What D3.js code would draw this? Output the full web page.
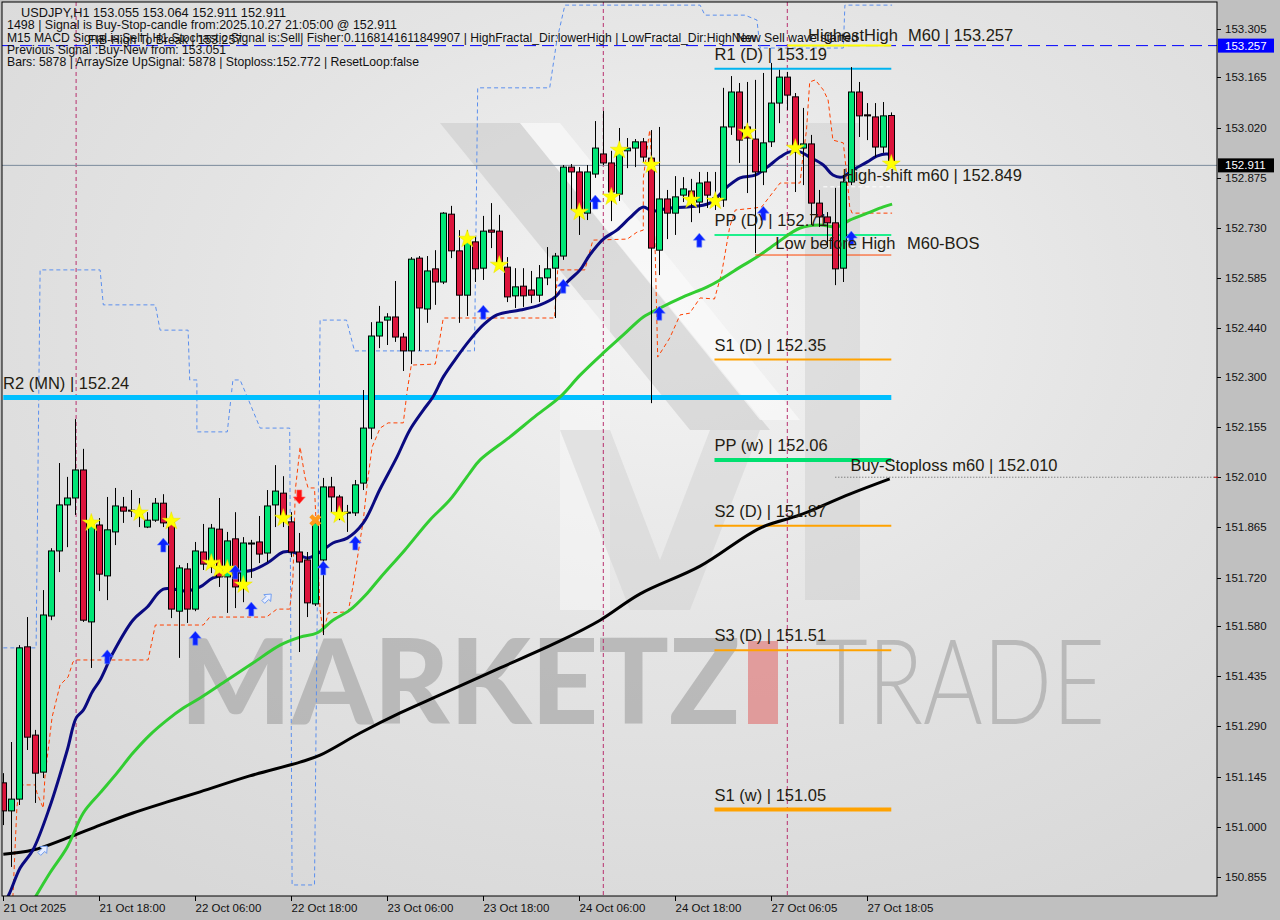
<!DOCTYPE html>
<html><head><meta charset="utf-8">
<script src="https://cdn.jsdelivr.net/npm/d3@7"></script>
<style>html,body{margin:0;padding:0;background:#c0c0c0;}svg{display:block}</style>
</head><body>
<script>
// ---------- DATA ----------
const openP  = [151.127,151.046,151.080,151.520,151.265,151.158,151.609,151.797,151.930,151.950,152.031,151.592,151.872,151.725,151.852,151.924,151.915,151.909,151.866,151.886,151.935,151.878,151.623,151.745,151.629,151.794,151.751,151.860,151.722,151.832,151.704,151.817,151.823,151.791,151.930,151.964,151.881,151.794,151.771,151.644,151.771,151.982,151.953,151.907,151.907,151.993,152.152,152.418,152.464,152.473,152.415,152.375,152.643,152.496,152.612,152.574,152.770,152.664,152.536,152.690,152.614,152.724,152.721,152.617,152.534,152.562,152.551,152.536,152.586,152.614,152.649,152.906,152.892,152.773,152.886,152.944,152.918,152.828,152.953,152.961,152.979,152.932,152.666,152.814,152.773,152.825,152.837,152.805,152.863,152.808,152.811,153.022,153.123,153.022,152.987,152.892,152.979,153.091,153.166,153.109,152.961,152.973,152.802,152.762,152.745,152.614,152.863,153.123,153.057,153.051,152.964,153.055];
const highP  = [151.155,151.245,151.525,151.606,151.280,151.684,151.805,152.051,152.011,152.178,152.092,151.901,151.892,151.953,151.979,151.953,151.973,151.950,151.909,151.950,151.961,151.895,151.756,151.762,151.823,151.875,151.875,151.950,151.852,151.909,151.837,151.829,151.898,151.973,152.045,152.013,151.909,151.849,151.794,151.892,152.008,152.011,151.959,151.930,152.002,152.262,152.458,152.505,152.484,152.577,152.427,152.646,152.649,152.649,152.666,152.776,152.794,152.724,152.724,152.704,152.765,152.802,152.768,152.646,152.614,152.614,152.606,152.623,152.675,152.658,152.912,152.915,152.906,152.912,153.039,153.068,152.953,153.019,152.990,152.987,152.990,153.013,153.022,152.840,152.880,152.877,152.872,152.892,152.892,152.892,153.135,153.169,153.149,153.152,153.158,153.178,153.207,153.187,153.181,153.120,153.077,152.999,152.840,152.776,152.846,152.883,153.195,153.152,153.091,153.091,153.094,153.064];
const lowP   = [151.005,150.884,151.063,151.222,151.069,151.141,151.597,151.736,151.808,151.901,151.592,151.459,151.681,151.655,151.814,151.878,151.895,151.866,151.863,151.881,151.866,151.603,151.488,151.589,151.623,151.742,151.733,151.693,151.618,151.632,151.649,151.719,151.762,151.765,151.866,151.866,151.779,151.505,151.606,151.638,151.554,151.909,151.886,151.852,151.898,151.973,152.120,152.383,152.392,152.401,152.317,152.337,152.375,152.456,152.508,152.568,152.643,152.456,152.476,152.574,152.580,152.672,152.614,152.516,152.499,152.502,152.513,152.516,152.565,152.470,152.638,152.782,152.710,152.753,152.875,152.912,152.750,152.808,152.903,152.906,152.921,152.224,152.594,152.698,152.710,152.805,152.747,152.773,152.788,152.782,152.791,152.999,152.918,152.831,152.658,152.854,152.964,153.033,153.071,152.834,152.854,152.739,152.733,152.675,152.565,152.574,152.854,152.993,152.984,152.935,152.947,152.911];
const closeP = [151.046,151.080,151.517,151.259,151.155,151.612,151.797,151.930,151.950,152.031,151.597,151.872,151.730,151.858,151.927,151.912,151.912,151.901,151.886,151.935,151.878,151.629,151.748,151.629,151.797,151.759,151.863,151.722,151.826,151.693,151.820,151.820,151.788,151.927,151.970,151.892,151.794,151.765,151.647,151.878,151.982,151.953,151.907,151.909,151.988,152.152,152.418,152.458,152.473,152.415,152.375,152.640,152.499,152.606,152.574,152.773,152.664,152.536,152.695,152.612,152.721,152.718,152.632,152.531,152.560,152.534,152.536,152.586,152.612,152.649,152.906,152.892,152.776,152.892,152.961,152.918,152.834,152.955,152.961,152.979,152.935,152.672,152.814,152.773,152.820,152.843,152.817,152.860,152.825,152.817,153.022,153.123,152.984,152.990,152.892,152.976,153.091,153.166,153.114,152.955,152.973,152.802,152.762,152.745,152.612,152.863,153.123,153.054,153.054,152.964,153.054,152.911];

// indicator traces: [bar, price]
const maFast = [[0,150.774],[0.8,150.809],[2.1,150.881],[3.7,150.933],[5.8,151.057],[8,151.222],[9.1,151.314],[10,151.337],[11.1,151.389],[12.1,151.424],[13.7,151.502],[16.2,151.597],[18,151.635],[20,151.687],[23,151.681],[24.6,151.693],[26.2,151.719],[28.7,151.733],[31.2,151.742],[33,151.762],[35,151.794],[36.2,151.794],[38,151.777],[39.6,151.794],[41.2,151.820],[43,151.834],[45,151.878],[47.1,151.976],[49.2,152.068],[50.8,152.146],[52.5,152.204],[53.7,152.242],[55,152.300],[56.7,152.357],[58.3,152.406],[60,152.450],[61.7,152.479],[64.6,152.493],[67.1,152.508],[69,152.531],[70.5,152.574],[72.1,152.609],[73.3,152.652],[75,152.698],[76.7,152.724],[78.3,152.759],[80,152.791],[81.1,152.779],[83.3,152.788],[85.5,152.791],[88.3,152.802],[90.5,152.849],[92.1,152.875],[94,152.883],[95.5,152.906],[97.1,152.935],[98.3,152.950],[99.6,152.950],[100.8,152.935],[102.5,152.912],[103.7,152.883],[104.8,152.877],[106.2,152.898],[108,152.921],[109.2,152.938],[110.5,152.944],[111.1,152.938]];
const maMid = [[4,150.797],[5.8,150.866],[8,150.942],[10,151.040],[12.1,151.098],[14.2,151.155],[16.2,151.213],[18.3,151.265],[20.5,151.309],[22.5,151.343],[24.6,151.372],[28,151.424],[31.2,151.473],[34.6,151.525],[37.1,151.548],[39.2,151.560],[41.2,151.597],[43.3,151.626],[45.5,151.675],[47.1,151.719],[50.2,151.800],[53.3,151.886],[55.8,151.944],[58.3,152.022],[59.6,152.060],[63.3,152.126],[66.7,152.190],[69.6,152.242],[72.1,152.305],[75,152.369],[77.5,152.421],[80,152.473],[82.1,152.499],[85,152.531],[88,152.560],[89.6,152.580],[92.1,152.617],[94.2,152.646],[96.7,152.687],[99.6,152.730],[102.1,152.739],[104.2,152.733],[105.8,152.753],[108,152.773],[110,152.791],[111.1,152.799]];
const maSlow = [[0,150.921],[3.7,150.933],[8,150.968],[12.1,151.005],[16.2,151.040],[20.5,151.072],[24.6,151.101],[30.8,151.147],[37.1,151.187],[39.6,151.207],[44.6,151.271],[49.6,151.329],[54.6,151.381],[62.1,151.459],[69.6,151.537],[74.6,151.597],[79.6,151.673],[87.1,151.753],[94.6,151.863],[99.6,151.901],[105.8,151.961],[110.8,152.005]];
const stopLine = [[1.2,150.797],[1.7,151.057],[2.1,151.121],[4,151.121],[4.2,151.098],[5,151.054],[5.2,151.144],[6.1,151.317],[7.1,151.410],[8.1,151.433],[8.7,151.476],[9.1,151.482],[18.1,151.482],[19,151.583],[25,151.583],[25.8,151.606],[32.9,151.606],[34.2,151.629],[35.8,151.629],[36.2,151.713],[36.5,151.973],[37.1,152.097],[37.7,152.011],[38.1,151.979],[38.9,151.979],[39.6,151.626],[40,151.560],[40.6,151.618],[43.1,151.621],[43.7,151.693],[45,151.886],[45.5,151.993],[46.1,152.097],[47.1,152.152],[48.1,152.167],[50,152.167],[50.5,152.262],[51,152.334],[54,152.337],[54.6,152.415],[55,152.470],[68.9,152.470],[69.3,152.609],[72.7,152.609],[73.7,152.695],[78,152.698],[79.2,152.718],[80,152.724],[80,152.874],[80.8,153.013],[81.1,152.903],[81.5,152.652],[81.8,152.357],[83.3,152.412],[84.6,152.479],[85.8,152.484],[87.1,152.528],[88.9,152.525],[89.8,152.600],[90.8,152.733],[91.5,152.782],[94,152.788],[94.8,152.791],[96.7,152.848],[97.1,152.860],[99.6,152.860],[99.9,152.927],[100.4,153.013],[100.8,153.152],[101.5,153.158],[102.5,153.129],[103.1,153.100],[103.7,152.984],[105,152.976],[105.5,152.869],[105.8,152.791],[106.1,152.773],[111.1,152.773]];
const fractalLine = [[0,151.517],[4.1,151.517],[4.6,152.609],[12.1,152.609],[12.5,152.508],[19,152.508],[19.6,152.435],[23.1,152.435],[23.3,152.291],[24.2,152.291],[24.2,152.141],[28,152.141],[28.7,152.291],[29.6,152.291],[30.5,152.242],[32.1,152.152],[35.8,152.152],[36.1,150.832],[38.9,150.832],[39.6,152.464],[42.9,152.464],[43.9,152.375],[58.9,152.375],[59.3,153.135],[68.3,153.135],[69.2,153.273],[70.2,153.374],[87.1,153.374],[87.7,153.345],[92.7,153.345],[94.2,153.331],[94.6,153.250],[105,153.250],[105.2,153.374],[111.1,153.374]];

const upArrows   = [[13,151.491],[20,151.814],[24,151.545],[29,151.736],[31,151.629],[40,151.748],[44,151.820],[60,152.487],[70,152.562],[74,152.805],[82,152.484],[87,152.695],[95,152.773],[106,152.701]];
const hollowArrows = [[5,150.933],[33,151.661]];
const downArrows = [[37,151.953]];
const crossMarks = [[39,151.886]];
const stars = [[11,151.878],[17,151.907],[21,151.883],[26,151.762],[27,151.745],[28,151.745],[30,151.699],[35,151.892],[42,151.901],[58,152.698],[62,152.623],[72,152.776],[76,152.820],[77,152.955],[81,152.912],[86,152.811],[89,152.808],[93,153.007],[99,152.961],[111,152.915]];

const priceTicks = [153.305,153.165,153.020,152.875,152.730,152.585,152.440,152.300,152.155,152.010,151.865,151.720,151.580,151.435,151.290,151.145,151.000,150.855];
const timeTickBars = [0,12,24,36,48,60,72,84,96,108];
const timeTickLabels = ["21 Oct 2025","21 Oct 18:00","22 Oct 06:00","22 Oct 18:00","23 Oct 06:00","23 Oct 18:00","24 Oct 06:00","24 Oct 18:00","27 Oct 06:05","27 Oct 18:05"];
const separatorBars = [9.1, 75, 98];

// pivot levels
const pivotNames  = ["R1 (D) | 153.19","PP (D) | 152.71","S1 (D) | 152.35","R2 (MN) | 152.24","PP (w) | 152.06","S2 (D) | 151.87","S3 (D) | 151.51","S1 (w) | 151.05"];
const pivotPrices = [153.19,152.71,152.35,152.24,152.06,151.87,151.51,151.05];
const pivotStart  = [88.9,88.9,88.9,0,88.9,88.9,88.9,88.9];
const pivotColors = ["#00b4f0","#1ef08c","#ffa200","#00bfff","#00e070","#ffa200","#ffa200","#ffa200"];
const pivotWidths = [2,2,2,5,4,2,2,4];

const infoLines = [
  "USDJPY,H1  153.055 153.064 152.911 152.911",
  "1498 | Signal is Buy-Stop-candle from:2025.10.27 21:05:00 @ 152.911",
  "M15 MACD Signal is:Sell | H1 Stochastic Signal is:Sell| Fisher:0.1168141611849907 | HighFractal_Dir:lowerHigh | LowFractal_Dir:HighNew",
  "Previous Signal :Buy-New from: 153.051",
  "Bars: 5878 | ArraySize UpSignal: 5878 | Stoploss:152.772 | ResetLoop:false"
];
const highestHigh = 153.257, lastPrice = 152.911, highShift = 152.849, lowBeforeHigh = 152.652, buyStop = 152.010;

// ---------- LAYOUT ----------
const W = 1280, H = 920;
const L = 2, R = 1217, T = 2, B = 896;
const svg = d3.select("body").append("svg").attr("width", W).attr("height", H)
  .style("font-family", "'Liberation Sans', Arial, sans-serif");
const x = d3.scaleLinear().domain([0, 111]).range([3.3, 891.3]);
const y = d3.scaleLinear().domain([150.855, 153.305]).range([877, 29]);

const defs = svg.append("defs");
const rg = defs.append("radialGradient").attr("id","bg").attr("cx","0.55").attr("cy","0.35").attr("r","0.75");
rg.append("stop").attr("offset","0").attr("stop-color","#f4f4f4");
rg.append("stop").attr("offset","0.5").attr("stop-color","#e4e4e4");
rg.append("stop").attr("offset","1").attr("stop-color","#d8d8d8");
defs.append("clipPath").attr("id","clip").append("rect").attr("x",L).attr("y",T).attr("width",R-L).attr("height",B-T);

svg.append("rect").attr("width",W).attr("height",H).attr("fill","#c0c0c0");
svg.append("rect").attr("x",L).attr("y",T).attr("width",R-L).attr("height",B-T).attr("fill","url(#bg)");

const plot = svg.append("g").attr("clip-path","url(#clip)");

// watermark logo
const wm = plot.append("g");
wm.append("polygon").attr("points","440,123 520,123 770,430 690,430").attr("fill","#c9c9c9").attr("opacity",0.55);
wm.append("polygon").attr("points","520,123 560,123 800,420 760,420").attr("fill","#fbfbfb").attr("opacity",0.6);
wm.append("polygon").attr("points","805,123 860,123 860,600 805,600").attr("fill","#cdcdcd").attr("opacity",0.5);
wm.append("polygon").attr("points","560,300 610,300 610,610 560,610").attr("fill","#f7f7f7").attr("opacity",0.55);
wm.append("polygon").attr("points","560,430 610,430 660,560 710,430 760,430 690,610 630,610").attr("fill","#cfcfcf").attr("opacity",0.45);
wm.append("text").attr("x",180).attr("y",724).attr("font-family","Lato, 'Liberation Sans', sans-serif").attr("font-weight",900)
  .attr("font-size",118).attr("fill","#a9a9a9").attr("opacity",0.7).attr("textLength",560).attr("lengthAdjust","spacingAndGlyphs").text("MARKETZ");
wm.append("rect").attr("x",748).attr("y",641).attr("width",30).attr("height",83).attr("fill","#e08a8a").attr("opacity",0.8);
wm.append("text").attr("x",815).attr("y",724).attr("font-family","Lato, 'Liberation Sans', sans-serif").attr("font-weight",300)
  .attr("font-size",118).attr("fill","#a9a9a9").attr("opacity",0.7).attr("textLength",290).attr("lengthAdjust","spacingAndGlyphs").text("TRADE");

// separators
plot.selectAll(".sep").data(separatorBars).enter().append("line")
  .attr("x1",d=>x(d)).attr("x2",d=>x(d)).attr("y1",T).attr("y2",B)
  .attr("stroke","#b8306e").attr("stroke-width",1).attr("stroke-dasharray","4,3");

plot.append("line").attr("x1",L).attr("x2",R).attr("y1",y(highestHigh)).attr("y2",y(highestHigh))
  .attr("stroke","#0000ff").attr("stroke-width",1).attr("stroke-dasharray","12,6");
plot.append("line").attr("x1",L).attr("x2",R).attr("y1",y(lastPrice)).attr("y2",y(lastPrice))
  .attr("stroke","#7a8a9c").attr("stroke-width",1);

const line = d3.line().x(d=>x(d[0])).y(d=>y(d[1]));
plot.append("path").datum(fractalLine).attr("d",line).attr("fill","none").attr("stroke","#5b8fee").attr("stroke-width",1).attr("stroke-dasharray","4,3");
plot.append("path").datum(stopLine).attr("d",line).attr("fill","none").attr("stroke","#ff4000").attr("stroke-width",1).attr("stroke-dasharray","4,3");

pivotPrices.forEach((p,i)=>{
  plot.append("line").attr("x1",x(pivotStart[i])).attr("x2",x(111)).attr("y1",y(p)).attr("y2",y(p))
    .attr("stroke",pivotColors[i]).attr("stroke-width",pivotWidths[i]);
});

const curve = d3.line().x(d=>x(d[0])).y(d=>y(d[1])).curve(d3.curveCatmullRom);
plot.append("path").datum(maSlow).attr("d",curve).attr("fill","none").attr("stroke","#000").attr("stroke-width",3);
plot.append("path").datum(maMid).attr("d",curve).attr("fill","none").attr("stroke","#32cd32").attr("stroke-width",3);
plot.append("path").datum(maFast).attr("d",curve).attr("fill","none").attr("stroke","#0a0a80").attr("stroke-width",3);

plot.append("line").attr("x1",x(98)).attr("x2",x(111)).attr("y1",y(highestHigh)).attr("y2",y(highestHigh)).attr("stroke","#ffff00").attr("stroke-width",2);
plot.append("line").attr("x1",x(102.5)).attr("x2",x(111)).attr("y1",y(highShift)).attr("y2",y(highShift)).attr("stroke","#ffffff").attr("stroke-width",1).attr("stroke-dasharray","4,3");
plot.append("line").attr("x1",x(94)).attr("x2",x(111)).attr("y1",y(lowBeforeHigh)).attr("y2",y(lowBeforeHigh)).attr("stroke","#ff4500").attr("stroke-width",1);
plot.append("line").attr("x1",x(104)).attr("x2",R).attr("y1",y(buyStop)).attr("y2",y(buyStop)).attr("stroke","#555").attr("stroke-width",1).attr("stroke-dasharray","1,2");

// candles
const idx = d3.range(openP.length);
const cg = plot.append("g");
cg.selectAll(".wick").data(idx).enter().append("line")
  .attr("x1",i=>Math.round(x(i))+0.5).attr("x2",i=>Math.round(x(i))+0.5)
  .attr("y1",i=>y(highP[i])).attr("y2",i=>y(lowP[i])).attr("stroke","#000").attr("stroke-width",1);
cg.selectAll(".body").data(idx).enter().append("rect")
  .attr("x",i=>Math.round(x(i))-2.5).attr("width",6)
  .attr("y",i=>y(Math.max(openP[i],closeP[i]))).attr("height",i=>Math.max(1,Math.abs(y(openP[i])-y(closeP[i]))))
  .attr("fill",i=>closeP[i]>=openP[i]?"#00e676":"#dc143c").attr("stroke","#000").attr("stroke-width",1);

// markers
const star = d3.symbol().type(d3.symbolStar).size(100);
plot.selectAll(".star").data(stars).enter().append("path").attr("d",star)
  .attr("transform",d=>`translate(${x(d[0])},${y(d[1])})`).attr("fill","#ffff00").attr("stroke","#e8e000").attr("stroke-width",0.5);
const upPath = "M0,-7 L6,0 L2.5,0 L2.5,7 L-2.5,7 L-2.5,0 L-6,0 Z";
plot.selectAll(".up").data(upArrows).enter().append("path").attr("d",upPath)
  .attr("transform",d=>`translate(${x(d[0])},${y(d[1])})`).attr("fill","#0a22ff").attr("stroke","#6f8cff").attr("stroke-width",0.6);
plot.selectAll(".dn").data(downArrows).enter().append("path").attr("d",upPath)
  .attr("transform",d=>`translate(${x(d[0])},${y(d[1])}) rotate(180)`).attr("fill","#ff1010").attr("stroke","#ff7070").attr("stroke-width",0.6);
plot.selectAll(".holl").data(hollowArrows).enter().append("path").attr("d",upPath)
  .attr("transform",d=>`translate(${x(d[0])},${y(d[1])}) rotate(45) scale(0.8)`).attr("fill","#e8eeff").attr("stroke","#5b8fee").attr("stroke-width",1);
plot.selectAll(".cross").data(crossMarks).enter().append("path").attr("d",d3.symbol().type(d3.symbolCross).size(90))
  .attr("transform",d=>`translate(${x(d[0])},${y(d[1])}) rotate(45)`).attr("fill","#ff9a1a");

// level labels
const lab = plot.append("g").attr("font-size",16.5).attr("fill","#231c12");
pivotPrices.forEach((p,i)=>{
  lab.append("text").attr("x",pivotStart[i]===0?3:x(pivotStart[i])).attr("y",y(p)-9).text(pivotNames[i]);
});
lab.append("text").attr("x",x(100.6)).attr("y",y(highestHigh)-5).text("HighestHigh");
lab.append("text").attr("x",908).attr("y",y(highestHigh)-5).text("M60 | 153.257");
lab.append("text").attr("x",x(104.9)).attr("y",y(highShift)-6).text("High-shift m60 | 152.849");
lab.append("text").attr("x",x(96.5)).attr("y",y(lowBeforeHigh)-6).text("Low before High");
lab.append("text").attr("x",907).attr("y",y(lowBeforeHigh)-6).text("M60-BOS");
lab.append("text").attr("x",x(105.9)).attr("y",y(buyStop)-6).text("Buy-Stoploss m60 | 152.010");

// info text (widths fitted to the reference rendering)
const infoX = [21,7,7,7,7], infoW = [265,390,749,219,412];
const info = svg.append("g").attr("font-size",12.2).attr("fill","#111");
infoLines.forEach((t,i)=>{
  info.append("text").attr("x",infoX[i]).attr("y",17+i*12.3)
    .attr("textLength",infoW[i]).attr("lengthAdjust","spacingAndGlyphs").text(t);
});
info.append("text").attr("x",88).attr("y",44).attr("textLength",154).attr("lengthAdjust","spacingAndGlyphs").text("FIB-High To Break | 153.257");
info.append("text").attr("x",736).attr("y",42).attr("textLength",122).attr("lengthAdjust","spacingAndGlyphs").text("New Sell wave started");

// frame
svg.append("rect").attr("x",L).attr("y",T).attr("width",R-L).attr("height",B-T).attr("fill","none").attr("stroke","#000").attr("stroke-width",1);

// right axis
const ax = svg.append("g").attr("font-size",11.5).attr("fill","#111");
priceTicks.forEach(p=>{
  ax.append("line").attr("x1",R).attr("x2",R+4).attr("y1",Math.round(y(p))+0.5).attr("y2",Math.round(y(p))+0.5).attr("stroke","#000");
  ax.append("text").attr("x",R+8).attr("y",y(p)+4).text(p.toFixed(3));
});
[[highestHigh,"#0000ff","#ffffff"],[lastPrice,"#000000","#ffffff"]].forEach(([p,bg,fg])=>{
  ax.append("rect").attr("x",R+1).attr("y",y(p)-7).attr("width",56).attr("height",14).attr("fill",bg);
  ax.append("text").attr("x",R+8).attr("y",y(p)+4).attr("fill",fg).text(p.toFixed(3));
});
ax.append("line").attr("x1",R-3).attr("x2",R+1).attr("y1",y(buyStop)).attr("y2",y(buyStop)).attr("stroke","#c00");

// bottom axis
timeTickBars.forEach((b,i)=>{
  const xx = Math.round(x(b))+0.5;
  ax.append("line").attr("x1",xx).attr("x2",xx).attr("y1",B).attr("y2",B+5).attr("stroke","#000");
  ax.append("text").attr("x",xx).attr("y",B+16).text(timeTickLabels[i]);
});
</script>
</body></html>
